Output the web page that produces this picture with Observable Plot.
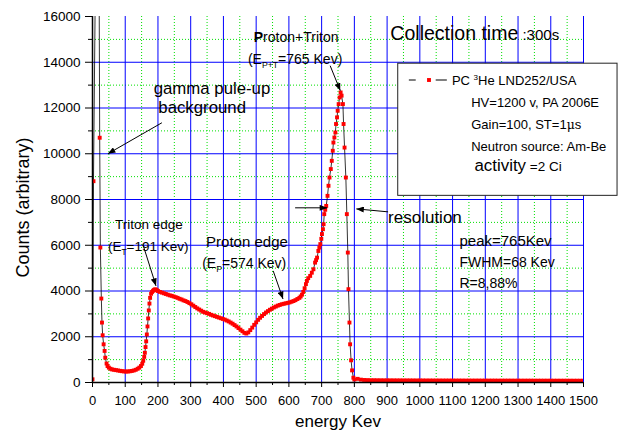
<!DOCTYPE html>
<html><head><meta charset="utf-8">
<script src="https://cdn.jsdelivr.net/npm/d3@7"></script>
<script src="https://cdn.jsdelivr.net/npm/@observablehq/plot@0.6"></script>
<style>html,body{margin:0;padding:0;background:#fff;} #chart{width:627px;height:434px;}</style>
</head><body><div id="chart"></div>
<script>
// ---- data (energy in keV, counts) ----
const energy = [0,3,17,22,24,27,29,31,34,37,39,43,46,50,55,60,66,72,78,84,90,96,102,108,114,120,126,132,138,143,148,152,155,158,160,162,164,166,168,170,172,174,176,179,182,185,188,191,194,197,200,
206,212,218,224,230,236,242,248,254,260,266,272,278,284,290,296,302,308,314,320,326,332,338,344,350,356,362,368,374,380,386,392,398,404,410,416,422,428,434,440,446,452,458,464,470,476,482,488,494,500,506,512,518,524,530,536,542,548,554,560,566,572,578,584,590,596,602,608,614,620,626,632,
636,640,644,648,652,655,659,665,670,675,680,683,686,690,693,696,699,701,704,706,708,711,714,718,721,724,728,731,734,736,739,742,744,747,749,752,755,758,761,765,767,770,774,777,780,782,785,787,790,793,797,800,
810,820,830,840,850,860,870,880,890,900,910,920,930,940,950,960,970,980,990,1000,1010,1020,1030,1040,1050,1060,1070,1080,1090,1100,1110,1120,1130,1140,1150,1160,1170,1180,1190,1200,1210,1220,1230,1240,1250,1260,1270,1280,1290,1300,1310,1320,1330,1340,1350,1360,1370,1380,1390,1400,1410,1420,1430,1440,1450,1460,1470,1480,1490,1500];
const counts = [140,8800,30000,10700,5900,3670,2620,2065,1670,1380,1085,830,720,650,600,570,555,540,525,510,495,485,478,482,490,505,525,555,600,650,720,820,950,1120,1300,1550,1800,2100,2450,2800,3150,3450,3700,3880,3960,4010,4050,4070,4060,4030,4000,
3960,3930,3900,3870,3840,3810,3790,3760,3730,3700,3660,3630,3590,3560,3520,3470,3420,3360,3300,3240,3190,3140,3090,3060,3030,3000,2960,2930,2900,2870,2840,2810,2780,2750,2710,2670,2620,2570,2510,2450,2380,2310,2240,2170,2140,2190,2290,2400,2520,2630,2740,2830,2910,2990,3060,3120,3180,3230,3280,3320,3360,3390,3420,3440,3460,3480,3500,3530,3560,3600,3650,3700,
3760,3840,3960,4120,4300,4440,4560,4660,4800,4950,5240,5350,5460,5750,5900,6050,6280,6490,6700,6920,7360,7550,7720,8160,8600,8960,9330,9690,10130,10490,10710,10930,11300,11590,11880,12170,12460,12680,12540,12170,11300,10270,8960,7360,5680,4080,2620,1670,970,530,210,130,
160,125,110,105,100,100,98,97,96,95,95,94,93,93,92,92,91,91,90,90,90,89,89,88,88,88,87,87,87,86,86,86,86,85,85,85,85,85,84,84,84,84,84,83,83,83,83,83,82,82,82,82,82,82,81,81,81,81,81,80,80,80,80,80,80,80,79,79,79,79];

const xTicks = [0,100,200,300,400,500,600,700,800,900,1000,1100,1200,1300,1400,1500];
const xMinor = [50,150,250,350,450,550,650,750,850,950,1050,1150,1250,1350,1450];
const xGrid = [100,200,300,400,500,600,700,800,900,1000,1100,1200,1300,1400,1500];
const yTicks = [0,2000,4000,6000,8000,10000,12000,14000,16000];
const yMinor = [1000,3000,5000,7000,9000,11000,13000,15000];
const yGrid = [2000,4000,6000,8000,10000,12000,14000];

// annotations (data coordinates) ; markup: _{sub} ^{sup} *{bigger} !{bold} ~{serif}
const notes = [
  {text: "*{Collection time} :300s", x: 910, y: 14990, size: 15, big: 1.3, anchor: "start"},
  {text: "!{P}roton+Triton", x: 622, y: 14900, size: 14, anchor: "middle"},
  {text: "(E_{P+T}=765 Kev)", x: 619, y: 13940, size: 14, anchor: "middle"},
  {text: "gamma pule-up", x: 365, y: 12625, size: 16.8, anchor: "middle"},
  {text: "background", x: 335, y: 11790, size: 16.8, anchor: "middle"},
  {text: "Triton edge", x: 69, y: 6717, size: 13.5, anchor: "start"},
  {text: "(E_{T}=191 Kev)", x: 47, y: 5755, size: 13.5, anchor: "start"},
  {text: "Proton edge", x: 347, y: 5910, size: 15, anchor: "start"},
  {text: "(E_{P}=574 Kev)", x: 335, y: 5010, size: 14, anchor: "start"},
  {text: "resolution", x: 903, y: 6980, size: 17, anchor: "start"},
  {text: "peak=765Kev", x: 1121, y: 5973, size: 15, anchor: "start"},
  {text: "FWHM=68 Kev", x: 1121, y: 5054, size: 14, anchor: "start"},
  {text: "R=8,88%", x: 1121, y: 4135, size: 14, anchor: "start"},
  {text: "PC ^{3}He LND252/USA", x: 1098, y: 13005, size: 13, anchor: "start"},
  {text: "HV=1200 v, PA 2006E", x: 1157, y: 12025, size: 13, anchor: "start"},
  {text: "Gain=100, ST=1~{μ}s", x: 1157, y: 11080, size: 13, anchor: "start"},
  {text: "Neutron source: Am-Be", x: 1157, y: 10130, size: 13, anchor: "start"},
  {text: "*{activity} =2 Ci", x: 1167, y: 9255, size: 13.5, big: 1.25, anchor: "start"}
];
const arrows = [
  {x1: 726, y1: 13850, x2: 757, y2: 12760},
  {x1: 212, y1: 11355, x2: 47, y2: 10000},
  {x1: 154, y1: 6035, x2: 194, y2: 4223},
  {x1: 552, y1: 4880, x2: 582, y2: 3650},
  {x1: 903, y1: 7460, x2: 806, y2: 7590},
  {x1: 619, y1: 7636, x2: 717, y2: 7636}
];
const legendBox = [{x1: 934, x2: 1604, y1: 8160, y2: 13937}];
const legendDashes = [{x1: 968, x2: 989, y: 13224}, {x1: 1050, x2: 1084, y: 13224}];
const legendSymbol = [{x: 1028, y: 13224}];

const points = energy.map((e, i) => ({e, c: counts[i]}));
const fmt = d3.format("d");

const chart = Plot.plot({
  width: 627, height: 434,
  marginLeft: 92, marginRight: 44, marginTop: 16, marginBottom: 52,
  x: {domain: [0, 1500], label: null},
  y: {domain: [0, 16000], label: null},
  style: {fontFamily: "'Liberation Sans', Arial, sans-serif", fontSize: "13px", background: "#fff", color: "#000", overflow: "visible"},
  marks: [
    Plot.ruleX(xMinor, {stroke: "#00e000", strokeDasharray: "1,2", strokeWidth: 1}),
    Plot.ruleY(yMinor, {stroke: "#00e000", strokeDasharray: "1,2", strokeWidth: 1}),
    Plot.ruleX(xGrid, {stroke: "#0000ff", strokeWidth: 1}),
    Plot.ruleY(yGrid, {stroke: "#0000ff", strokeWidth: 1}),
    Plot.rect(legendBox, {x1: "x1", x2: "x2", y1: "y1", y2: "y2", fill: "white", stroke: "#222", strokeWidth: 1}),
    Plot.line(points, {x: "e", y: "c", stroke: "black", strokeWidth: 0.8, clip: true}),
    Plot.dot(points, {x: "e", y: "c", symbol: "square", r: 2.2, fill: "#ff0000", clip: true}),
    Plot.ruleX([0], {stroke: "black", strokeWidth: 1.5}),
    Plot.ruleY([0], {stroke: "black", strokeWidth: 1.5}),
    Plot.axisX(xTicks, {tickSize: 5, tickPadding: 8, tickFormat: fmt, label: null, fontSize: 13}),
    Plot.axisX(xMinor, {tickSize: 3, tickFormat: () => "", label: null}),
    Plot.axisY(yTicks, {tickSize: 7, tickPadding: 5, tickFormat: fmt, label: null, fontSize: 13.5}),
    Plot.axisY(yMinor, {tickSize: 4, tickFormat: () => "", label: null}),
    Plot.ruleY(legendDashes, {y: "y", x1: "x1", x2: "x2", stroke: "black", strokeWidth: 1}),
    Plot.dot(legendSymbol, {x: "x", y: "y", symbol: "square", r: 2.2, fill: "#ff0000"}),
    Plot.link(arrows, {x1: "x1", y1: "y1", x2: "x2", y2: "y2", stroke: "black", strokeWidth: 1}),
    ...notes.map(n => Plot.text([n], {x: "x", y: "y", text: "text", fontSize: n.size, textAnchor: n.anchor, lineAnchor: "bottom", ariaDescription: String(n.big || 1.25)})),
    Plot.text(["Counts (arbitrary)"], {frameAnchor: "left", rotate: -90, dx: -64, dy: 8, fontSize: 18, textAnchor: "middle", lineAnchor: "bottom"}),
    Plot.text(["energy Kev"], {frameAnchor: "bottom", dy: 44, fontSize: 17, textAnchor: "middle", lineAnchor: "bottom"})
  ]
});

// arrow heads (filled) on the link paths
const ns = "http://www.w3.org/2000/svg";
const defs = document.createElementNS(ns, "defs");
defs.innerHTML = '<marker id="ahead" viewBox="0 0 10 8" refX="10" refY="4" markerWidth="8" markerHeight="6" orient="auto" markerUnits="userSpaceOnUse"><path d="M0,0L10,4L0,8Z" fill="black"/></marker>';
chart.insertBefore(defs, chart.firstChild);
chart.querySelectorAll('g[aria-label="link"] path').forEach(p => p.setAttribute("marker-end", "url(#ahead)"));

// rich text markup
document.body.appendChild(chart); // temporarily attach for computed styles
chart.querySelectorAll("text").forEach(t => {
  const s = t.textContent;
  if (!/[_^*!~]\{/.test(s)) return;
  const fs = parseFloat(getComputedStyle(t).fontSize) || 13;
  const g = t.closest("g[aria-description]");
  const big = g ? parseFloat(g.getAttribute("aria-description")) || 1.25 : 1.25;
  while (t.firstChild) t.removeChild(t.firstChild);
  const re = /([_^*!~])\{([^}]*)\}/g;
  let last = 0, m, shift = 0;
  const add = (str, kind) => {
    if (!str) return;
    const sp = document.createElementNS(ns, "tspan");
    sp.textContent = str;
    let target = 0;
    if (kind === "_") { sp.setAttribute("font-size", (fs * 0.62) + "px"); target = 0.28 * fs; }
    else if (kind === "^") { sp.setAttribute("font-size", (fs * 0.62) + "px"); target = -0.42 * fs; }
    else if (kind === "*") { sp.setAttribute("font-size", (fs * big) + "px"); }
    else if (kind === "!") { sp.setAttribute("font-weight", "bold"); }
    else if (kind === "~") { sp.setAttribute("font-family", "'DejaVu Serif', serif"); sp.setAttribute("font-size", (fs * 0.95) + "px"); }
    if (target !== shift) { sp.setAttribute("dy", (target - shift) + "px"); shift = target; }
    t.appendChild(sp);
  };
  while ((m = re.exec(s))) {
    add(s.slice(last, m.index), "");
    add(m[2], m[1]);
    last = re.lastIndex;
  }
  add(s.slice(last), "");
});

document.getElementById("chart").appendChild(chart);
</script>
</body></html>
